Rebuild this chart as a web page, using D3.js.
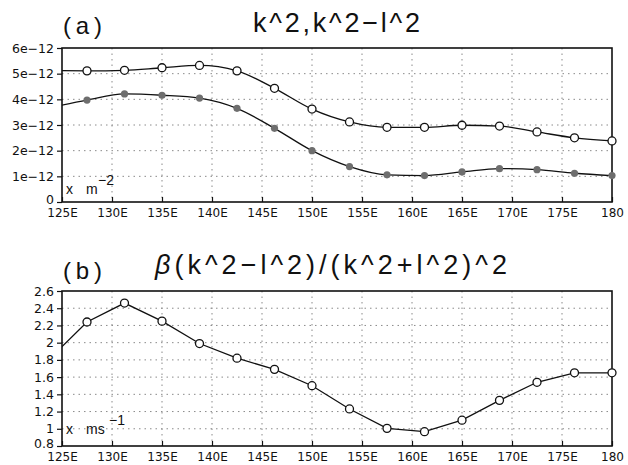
<!DOCTYPE html>
<html>
<head>
<meta charset="utf-8">
<script src="https://cdn.jsdelivr.net/npm/d3@7"></script>
<style>
  body { margin:0; background:#fff; }
  text { font-family: "DejaVu Sans", sans-serif; fill:#111; }
  .title { font-family: "Liberation Sans", Arial, sans-serif; }
</style>
</head>
<body>
<svg id="chart"></svg>
<script>
const width = 628, height = 465;

// longitudes of the points (first one sits outside the frame and gets clipped)
const lons = [123.75,127.5,131.25,135,138.75,142.5,146.25,150,153.75,157.5,161.25,165,168.75,172.5,176.25,180];
// panel a, units 1e-12 m^-2
const k2 = [5.12,5.11,5.13,5.23,5.32,5.11,4.43,3.62,3.12,2.91,2.91,2.99,2.96,2.73,2.50,2.38];
const k2ml2 = [3.67,3.97,4.21,4.16,4.05,3.65,2.87,2.00,1.38,1.06,1.03,1.17,1.30,1.26,1.12,1.03];
// panel b, m s^-1
const beta = [1.81,2.24,2.46,2.25,1.99,1.82,1.69,1.50,1.23,1.005,0.966,1.10,1.33,1.54,1.65,1.65];

const xTicks = [125,130,135,140,145,150,155,160,165,170,175,180];
const xTickLabels = ['125E','130E','135E','140E','145E','150E','155E','160E','165E','170E','175E','180'];
const yTicksA = [0,1,2,3,4,5,6];
const yTickLabelsA = ['0','1e\u221212','2e\u221212','3e\u221212','4e\u221212','5e\u221212','6e\u221212'];
const yTicksB = [0.8,1,1.2,1.4,1.6,1.8,2,2.2,2.4,2.6];
const yTickLabelsB = ['0.8','1','1.2','1.4','1.6','1.8','2','2.2','2.4','2.6'];

const svg = d3.select('#chart').attr('width',width).attr('height',height);
svg.append('rect').attr('width',width).attr('height',height).attr('fill','#fff');

const x = d3.scaleLinear().domain([125,180]).range([62,612]);

const panel = (id, y, yTicks, yLabels, top, bottom) => {
  const g = svg.append('g');
  g.append('clipPath').attr('id',id).append('rect')
    .attr('x',x(125)).attr('y',top).attr('width',x(180)-x(125)).attr('height',bottom-top);

  // dotted grid
  g.append('g').selectAll('line').data(yTicks.slice(1,-1)).enter().append('line')
    .attr('x1',x(125)).attr('x2',x(180)).attr('y1',d=>y(d)).attr('y2',d=>y(d))
    .attr('stroke','#8a8a8a').attr('stroke-width',1).attr('stroke-dasharray','1.5,4');
  g.append('g').selectAll('line').data(xTicks.slice(1,-1)).enter().append('line')
    .attr('x1',d=>x(d)).attr('x2',d=>x(d)).attr('y1',top).attr('y2',bottom)
    .attr('stroke','#8a8a8a').attr('stroke-width',1).attr('stroke-dasharray','1.5,4');

  // left axis
  const ya = g.append('g').attr('transform',`translate(${x(125)},0)`)
    .call(d3.axisLeft(y).tickValues(yTicks).tickFormat((d,i)=>yLabels[i]).tickSize(5).tickPadding(3));
  ya.select('.domain').remove();
  ya.selectAll('line').attr('stroke','#111').attr('stroke-width',1.2);
  ya.selectAll('text').attr('font-size',12.5).attr('font-family','DejaVu Sans')
    .attr('dy',(d,i)=> i===0 ? '0.1em' : '0.32em');

  // bottom axis, ticks pointing into the frame
  const xa = g.append('g').attr('transform',`translate(0,${bottom})`)
    .call(d3.axisBottom(x).tickValues(xTicks).tickFormat((d,i)=>xTickLabels[i]).tickSize(-5).tickPadding(4));
  xa.select('.domain').remove();
  xa.selectAll('line').attr('stroke','#111').attr('stroke-width',1.2);
  xa.selectAll('text').attr('font-size',12).attr('font-family','DejaVu Sans').attr('dy','0.95em');

  g.append('rect').attr('x',x(125)).attr('y',top).attr('width',x(180)-x(125)).attr('height',bottom-top)
    .attr('fill','none').attr('stroke','#111').attr('stroke-width',1.6);
  return g;
};

const series = (g, id, y, vals, open, curve) => {
  const pts = lons.map((d,i)=>({lon:d, v:vals[i]}));
  g.append('path').datum(pts)
    .attr('clip-path',`url(#${id})`)
    .attr('fill','none').attr('stroke','#111').attr('stroke-width',1.3)
    .attr('d', d3.line().x(d=>x(d.lon)).y(d=>y(d.v)).curve(curve));
  g.append('g').selectAll('circle').data(pts.filter(d=>d.lon>=125)).enter().append('circle')
    .attr('cx',d=>x(d.lon)).attr('cy',d=>y(d.v))
    .attr('r', open ? 4 : 3.6)
    .attr('fill', open ? '#fff' : '#6e6e6e')
    .attr('stroke', open ? '#111' : 'none')
    .attr('stroke-width',1.3);
};

const unit = (base, main, sup, supX) => {
  svg.append('text').attr('class','title').attr('x',66).attr('y',base).attr('font-size',14).text('x');
  svg.append('text').attr('class','title').attr('x',86).attr('y',base).attr('font-size',14).text(main);
  svg.append('text').attr('class','title').attr('x',supX).attr('y',base-9).attr('font-size',14).text(sup);
};

// ---- panel (a)
const yA = d3.scaleLinear().domain([0,6]).range([202,48]);
const gA = panel('clipA', yA, yTicksA, yTickLabelsA, 48, 202);
series(gA,'clipA',yA,k2ml2,false,d3.curveMonotoneX);
series(gA,'clipA',yA,k2,true,d3.curveMonotoneX);

svg.append('text').attr('class','title').attr('x',63).attr('y',34)
  .attr('font-size',24).attr('textLength',39).attr('lengthAdjust','spacing').text('(a)');
svg.append('text').attr('class','title').attr('x',253).attr('y',32)
  .attr('font-size',27).attr('textLength',167).attr('lengthAdjust','spacing').text('k^2,k^2\u2212l^2');
unit(194, 'm', '\u22122', 98);

// ---- panel (b)
const yB = d3.scaleLinear().domain([0.8,2.6]).range([446,291]);
const gB = panel('clipB', yB, yTicksB, yTickLabelsB, 291, 446);
series(gB,'clipB',yB,beta,true,d3.curveLinear);

svg.append('text').attr('class','title').attr('x',63).attr('y',279)
  .attr('font-size',24).attr('textLength',39).attr('lengthAdjust','spacing').text('(b)');
const tB = svg.append('text').attr('class','title').attr('x',155).attr('y',274).attr('font-size',27);
tB.append('tspan').attr('font-style','italic').text('\u03b2');
tB.append('tspan').text('(k^2\u2212l^2)/(k^2+l^2)^2');
tB.attr('textLength',352).attr('lengthAdjust','spacing');
unit(434, 'ms', '\u22121', 109);
</script>
</body>
</html>
